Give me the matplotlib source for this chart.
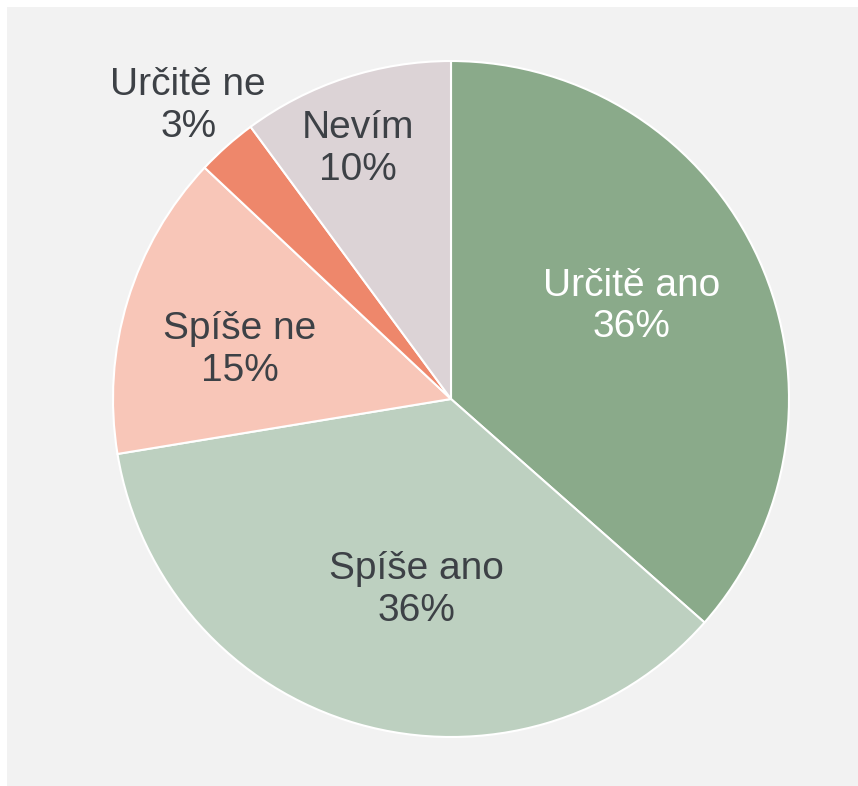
import numpy as np
import matplotlib
matplotlib.use("Agg")
from matplotlib import pyplot as plt
from matplotlib.patches import Rectangle

plt.rcParams['font.family'] = ['Liberation Sans', 'DejaVu Sans']

labels = ["Určitě ano", "Spíše ano", "Spíše ne", "Určitě ne", "Nevím"]
values = [36.5, 35.9, 14.6, 2.9, 10.1]
shown = [36, 36, 15, 3, 10]              # percentages printed on the chart
colors = ["#8aaa8a", "#bdd0c0", "#f8c6b8", "#ee876b", "#dcd3d6"]
text_colors = ["white", "#3d4146", "#3d4146", "#3d4146", "#3d4146"]
label_dist = [0.60, 0.574, 0.641, 1.165, 0.789]
label_shift = [2.8, 5.9, 3.8, 0.3, 2.2]  # degrees, nudge from slice middle

W, H = 858, 786
fig = plt.figure(figsize=(W/100, H/100), dpi=100, facecolor="white")
fig.patches.append(Rectangle((7/W, 0), 1, 1 - 7/H, transform=fig.transFigure,
                             facecolor="#f2f2f2", edgecolor="none", zorder=-10))

cx, cy, r = 451, 399, 338
ax = fig.add_axes([(cx - r)/W, (H - cy - r)/H, 2*r/W, 2*r/H])
wedges, _ = ax.pie(values, colors=colors, startangle=90, counterclock=False,
                   radius=1, wedgeprops=dict(edgecolor="white", linewidth=1.5))
ax.set_xlim(-1, 1)
ax.set_ylim(-1, 1)
ax.set_aspect("equal")
ax.axis("off")

for w, lab, v, tc, d, s in zip(wedges, labels, shown, text_colors, label_dist, label_shift):
    ang = np.deg2rad((w.theta1 + w.theta2) / 2 + s)
    ax.text(d*np.cos(ang), d*np.sin(ang), "%s\n%d%%" % (lab, v),
            ha="center", va="center", fontsize=28, color=tc, linespacing=1.2)

fig.savefig("out.png", dpi=100, facecolor=fig.get_facecolor())
